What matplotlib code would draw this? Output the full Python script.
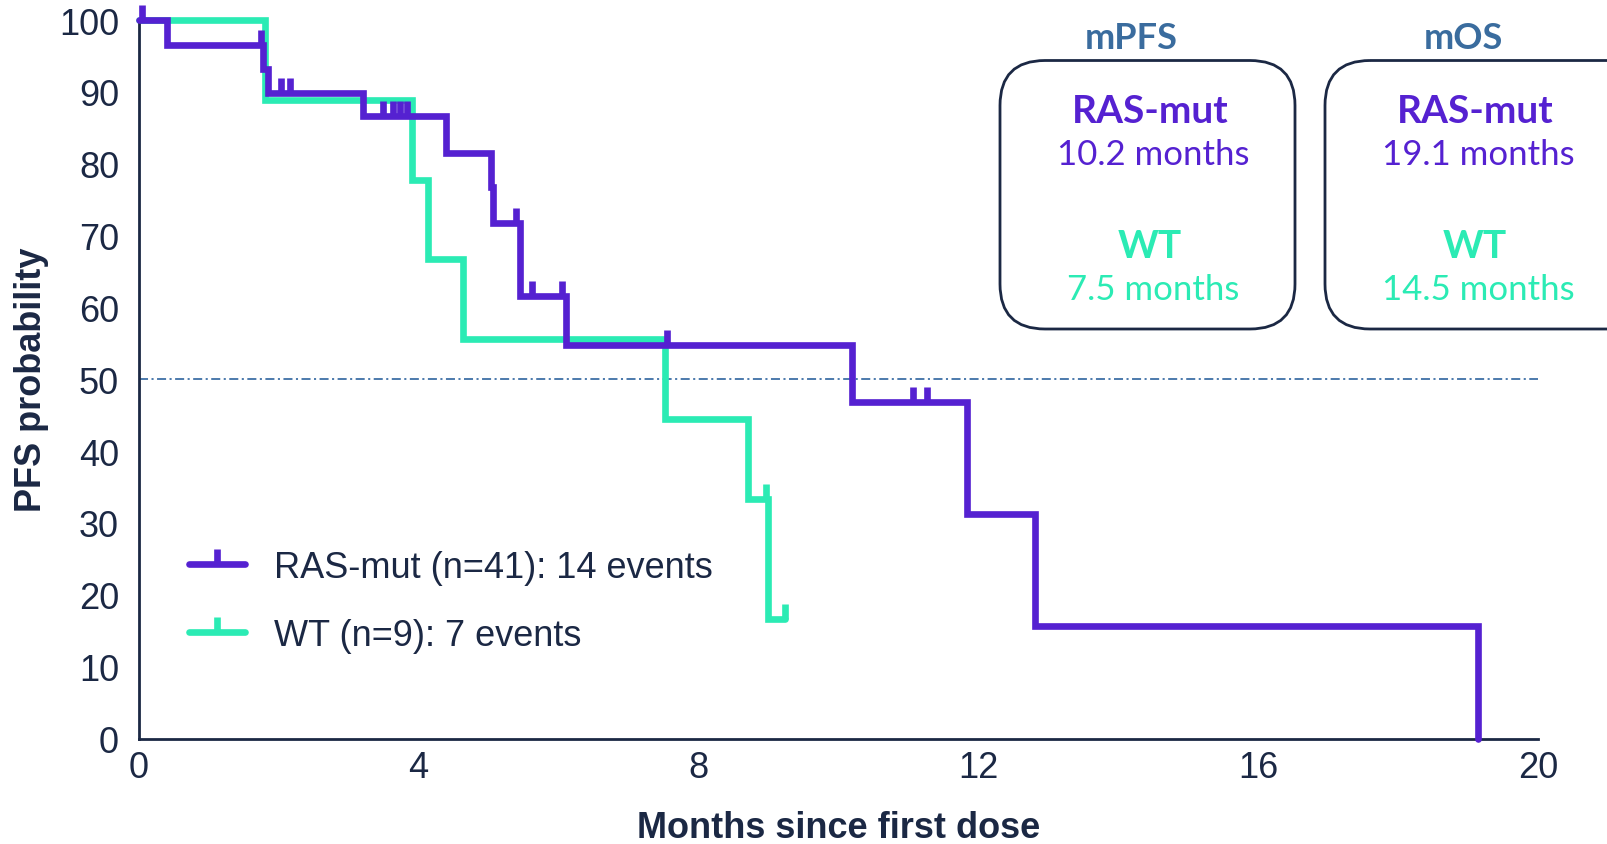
import numpy as np
import matplotlib.pyplot as plt
from matplotlib.lines import Line2D
from matplotlib.patches import FancyBboxPatch

plt.rcParams['font.family'] = ['Liberation Sans', 'DejaVu Sans']
plt.rcParams['lines.scale_dashes'] = False

# RAS-mut arm: step times (months) and PFS (%) after each step
ras_t = [0, 0.40, 1.78, 1.85, 3.21, 4.40, 5.03, 5.06, 5.45, 6.11, 10.19, 11.83, 12.81, 19.13]
ras_s = [100, 96.5, 93.2, 89.9, 86.6, 81.5, 76.7, 71.8, 61.6, 54.7, 46.8, 31.2, 15.6, 0]
ras_cens = [0.05, 1.75, 2.04, 2.16, 3.50, 3.64, 3.74, 3.84, 5.39, 5.62, 6.05, 7.55, 11.07, 11.26]
ras_n, ras_events = 41, 14

# WT arm
wt_t = [0, 1.81, 3.91, 4.14, 4.64, 7.52, 8.71, 9.00]
wt_s = [100, 88.9, 77.8, 66.7, 55.6, 44.4, 33.3, 16.7]
wt_cens = [8.97, 9.24]
wt_last = 9.24
wt_n, wt_events = 9, 7

# medians shown in the boxes
groups = ["RAS-mut", "WT"]
mpfs = [10.2, 7.5]
mos = [19.1, 14.5]

xticks = [0, 4, 8, 12, 16, 20]
yticks = list(range(0, 101, 10))

purple = '#5521D1'
green = '#2BEBB4'
navy = '#1B2844'
title_blue = '#3A6C9E'
ref_blue = '#3E6FA6'


def surv_at(t, s, x):
    idx = np.searchsorted(t, x, side='right') - 1
    return np.asarray(s)[idx]


W, H = 1608, 845
fig = plt.figure(figsize=(W / 100, H / 100), dpi=100)
ax = fig.add_axes([138.5 / W, 105.5 / H, 1400 / W, 718.5 / H])

ax.axhline(50, color=ref_blue, lw=1.3, dashes=(6.5, 2.5, 1.5, 2.5), zorder=1)

line_kw = dict(lw=4.8, clip_on=False, solid_joinstyle='miter', solid_capstyle='round')
tick_kw = dict(ls='none', marker=2, ms=11, mew=4.8, clip_on=False)

# WT curve
ax.step(wt_t + [wt_last], wt_s + [wt_s[-1]], where='post', color=green, zorder=2, **line_kw)
ax.plot(wt_cens, surv_at(wt_t, wt_s, wt_cens), color=green, zorder=2, **tick_kw)

# RAS-mut curve
ax.step(ras_t, ras_s, where='post', color=purple, zorder=3, **line_kw)
ax.plot(ras_cens, surv_at(ras_t, ras_s, ras_cens), color=purple, zorder=3, **tick_kw)

ax.set_xlim(0, 20)
ax.set_ylim(0, 100)
ax.set_xticks(xticks)
ax.set_yticks(yticks)
ax.tick_params(length=0, labelsize=26, colors=navy)
ax.tick_params(axis='y', pad=14)
ax.tick_params(axis='x', pad=8)
for side in ['top', 'right']:
    ax.spines[side].set_visible(False)
for side in ['left', 'bottom']:
    ax.spines[side].set_color(navy)
    ax.spines[side].set_linewidth(2)

ax.set_xlabel("Months since first dose", fontsize=26, fontweight='bold', color=navy, labelpad=18)
ax.set_ylabel("PFS probability", fontsize=26, fontweight='bold', color=navy, labelpad=7)

handles = [
    Line2D([], [], color=purple, lw=4.8, marker=2, ms=11, mew=4.8, solid_capstyle='round'),
    Line2D([], [], color=green, lw=4.8, marker=2, ms=11, mew=4.8, solid_capstyle='round'),
]
labels = [f"RAS-mut (n={ras_n}): {ras_events} events", f"WT (n={wt_n}): {wt_events} events"]
ax.legend(handles, labels, loc='center left', bbox_to_anchor=(0.026, 0.191), frameon=False,
          fontsize=26, labelcolor=navy, numpoints=1, handlelength=1.55, handletextpad=0.8,
          labelspacing=0.92, borderaxespad=0)

# overlay in pixel units for the median boxes
ov = fig.add_axes([0, 0, 1, 1])
ov.set_xlim(0, W)
ov.set_ylim(H, 0)
ov.axis('off')

box_fam = ['Lato', 'DejaVu Sans']
panels = [("mPFS", mpfs, 1000, 1131.5, 1150), ("mOS", mos, 1325, 1463, 1475)]
for title, vals, x0, tx, cx in panels:
    ov.add_patch(FancyBboxPatch((x0, 61.5), 295 if x0 == 1000 else 330, 268.5,
                                boxstyle="round,pad=0,rounding_size=45",
                                fc='none', ec=navy, lw=2))
    ov.text(tx, 49.3, title, ha='center', va='baseline', fontsize=26, fontweight='bold',
            color=title_blue, family=box_fam)
    for (g, v, col, y_name, y_val) in zip(groups, vals, [purple, green], [122.7, 258], [165, 300]):
        ov.text(cx, y_name, g, ha='center', va='baseline', fontsize=28, fontweight='bold',
                color=col, family=box_fam)
        ov.text(cx + 3, y_val, f"{v} months", ha='center', va='baseline', fontsize=25,
                fontweight='normal', color=col, family=box_fam)

fig.savefig('out.png', dpi=100)
